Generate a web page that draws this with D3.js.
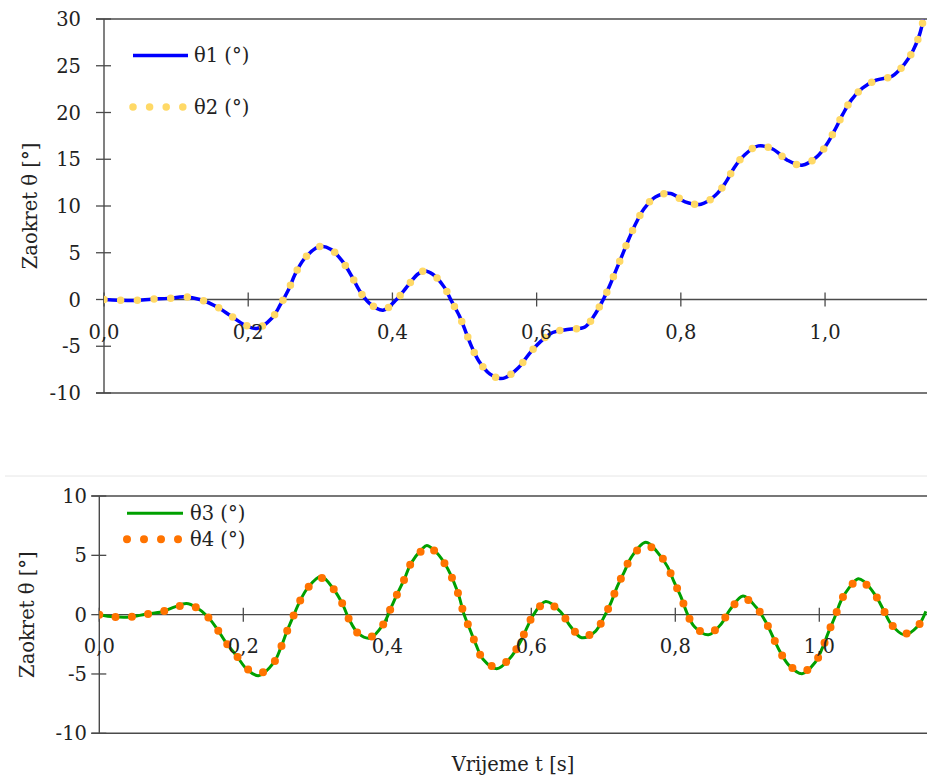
<!DOCTYPE html>
<html>
<head>
<meta charset="utf-8">
<script src="https://cdn.jsdelivr.net/npm/d3@7"></script>
<style>
  html, body { margin: 0; padding: 0; background: #ffffff; }
  svg { display: block; font-family: "DejaVu Serif", serif; }
</style>
</head>
<body>
<svg id="chart" width="927" height="777"></svg>
<script>
// ---------- DATA ----------
const topTime = [0, 0.02, 0.043, 0.066, 0.089, 0.112, 0.133, 0.155, 0.175, 0.195, 0.212, 0.233, 0.245, 0.256, 0.265, 0.277, 0.294, 0.302, 0.315, 0.3305, 0.3435, 0.354, 0.3675, 0.387, 0.406, 0.42, 0.435, 0.445, 0.456, 0.4716, 0.482, 0.4928, 0.5017, 0.51, 0.52, 0.5354, 0.549, 0.557, 0.5747, 0.59, 0.605, 0.6223, 0.6453, 0.667, 0.681, 0.6926, 0.702, 0.711, 0.72, 0.7286, 0.738, 0.749, 0.7647, 0.786, 0.806, 0.828, 0.848, 0.8627, 0.874, 0.888, 0.9075, 0.928, 0.9477, 0.968, 0.9885, 1.0024, 1.0139, 1.0245, 1.036, 1.0518, 1.0707, 1.0934, 1.1096, 1.1216, 1.1308, 1.1364];
const theta1 = [0, -0.07, -0.1, 0.03, 0.12, 0.28, 0.0, -0.72, -1.7, -2.7, -3.1, -1.97, -0.5, 1.07, 2.7, 4.28, 5.5, 5.7, 5.35, 4.1, 2.5, 1.0, -0.36, -1.15, 0.03, 1.35, 2.7, 3.06, 2.7, 1.35, -0.18, -1.75, -3.46, -5.07, -6.6, -7.99, -8.45, -8.34, -7.3, -5.78, -4.53, -3.53, -3.18, -2.93, -1.57, 0.03, 1.6, 3.3, 4.98, 6.6, 8.2, 9.7, 10.97, 11.33, 10.44, 10.19, 11.15, 12.58, 14.1, 15.43, 16.43, 16.07, 14.9, 14.36, 15.25, 16.6, 18.18, 19.79, 21.3, 22.6, 23.45, 23.9, 25.13, 26.55, 28.27, 29.95];
const theta2 = [0, -0.07, -0.1, 0.03, 0.12, 0.28, 0.0, -0.72, -1.7, -2.7, -3.1, -1.97, -0.5, 1.07, 2.7, 4.28, 5.5, 5.7, 5.35, 4.1, 2.5, 1.0, -0.36, -1.15, 0.03, 1.35, 2.7, 3.06, 2.7, 1.35, -0.18, -1.75, -3.46, -5.07, -6.6, -7.99, -8.45, -8.34, -7.3, -5.78, -4.53, -3.53, -3.18, -2.93, -1.57, 0.03, 1.6, 3.3, 4.98, 6.6, 8.2, 9.7, 10.97, 11.33, 10.44, 10.19, 11.15, 12.58, 14.1, 15.43, 16.43, 16.07, 14.9, 14.36, 15.25, 16.6, 18.18, 19.79, 21.3, 22.6, 23.45, 23.9, 25.13, 26.55, 28.27, 29.95];

const botTime = [0, 0.02, 0.042, 0.064, 0.087, 0.105, 0.121, 0.135, 0.15, 0.164, 0.176, 0.191, 0.205, 0.221, 0.242, 0.252, 0.26, 0.269, 0.278, 0.29, 0.308, 0.326, 0.338, 0.347, 0.36, 0.376, 0.395, 0.405, 0.414, 0.424, 0.433, 0.448, 0.455, 0.469, 0.482, 0.492, 0.5, 0.506, 0.514, 0.523, 0.533, 0.552, 0.57, 0.584, 0.594, 0.603, 0.62, 0.641, 0.654, 0.67, 0.689, 0.701, 0.711, 0.719, 0.729, 0.739, 0.759, 0.776, 0.789, 0.798, 0.808, 0.816, 0.827, 0.846, 0.864, 0.876, 0.894, 0.912, 0.925, 0.935, 0.945, 0.957, 0.976, 0.994, 1.004, 1.0125, 1.022, 1.03, 1.042, 1.054, 1.062, 1.078, 1.089, 1.1, 1.118, 1.137, 1.148];
const theta3 = [0, -0.18, -0.2, 0.03, 0.25, 0.65, 0.93, 0.6, -0.14, -1.24, -2.36, -3.5, -4.6, -5.15, -4.07, -2.8, -1.5, -0.2, 1.06, 2.3, 3.22, 2.1, 0.87, -0.4, -1.6, -1.97, -0.76, 0.56, 1.77, 3.03, 4.34, 5.5, 5.83, 5.19, 4.07, 2.8, 1.48, 0.13, -1.13, -2.5, -3.76, -4.55, -3.7, -2.39, -1.1, 0, 1.1, 0.22, -0.96, -1.94, -1.4, -0.2, 1.06, 2.32, 3.59, 4.85, 6.11, 5.2, 4.07, 2.8, 1.48, 0.17, -1.04, -1.7, -0.76, 0.42, 1.57, 0.64, -0.54, -1.8, -3.06, -4.21, -4.98, -4.04, -2.85, -1.52, -0.14, 1.15, 2.32, 3.03, 2.8, 1.62, 0.42, -0.82, -1.7, -0.96, 0.28];
const theta4 = [0, -0.18, -0.2, 0.03, 0.25, 0.62, 0.82, 0.6, -0.14, -1.24, -2.36, -3.5, -4.55, -5.0, -4.07, -2.8, -1.5, -0.2, 1.06, 2.3, 3.1, 2.1, 0.87, -0.4, -1.6, -1.9, -0.76, 0.56, 1.77, 3.03, 4.34, 5.4, 5.7, 5.19, 4.07, 2.8, 1.48, 0.13, -1.13, -2.5, -3.76, -4.45, -3.7, -2.39, -1.1, 0, 1.0, 0.22, -0.96, -1.85, -1.4, -0.2, 1.06, 2.32, 3.59, 4.85, 5.85, 5.2, 4.07, 2.8, 1.48, 0.17, -1.04, -1.6, -0.76, 0.42, 1.4, 0.64, -0.54, -1.8, -3.06, -4.21, -4.85, -4.04, -2.85, -1.52, -0.14, 1.15, 2.32, 2.9, 2.7, 1.62, 0.42, -0.82, -1.6, -0.96, 0.28];

const topYTicks = [-10, -5, 0, 5, 10, 15, 20, 25, 30];
const botYTicks = [-10, -5, 0, 5, 10];
const xTicks = [0, 0.2, 0.4, 0.6, 0.8, 1.0];
const seriesNames = ["θ1 (°)", "θ2 (°)", "θ3 (°)", "θ4 (°)"];
const yTitle = "Zaokret θ [°]";
const xTitle = "Vrijeme t [s]";

// ---------- DRAW ----------
const svg = d3.select("#chart");
const axisColor = "#4a4a4a";
const fontSize = 19.5;
const fmt = v => d3.format(".1f")(v).replace(".", ",");

function drawPanel(cfg) {
  const x = d3.scaleLinear().domain(cfg.xDomain).range([cfg.left, cfg.right]);
  const y = d3.scaleLinear().domain(cfg.yDomain).range([cfg.bottom, cfg.top]);
  const g = svg.append("g");
  const clipId = "clip" + cfg.id;
  svg.append("defs").append("clipPath").attr("id", clipId)
    .append("rect").attr("x", cfg.left).attr("y", cfg.top - 6)
    .attr("width", cfg.right - cfg.left + 10).attr("height", cfg.bottom - cfg.top + 12);

  // borders (top & bottom)
  [cfg.top, cfg.bottom].forEach(yy => {
    g.append("line").attr("x1", cfg.left - 8).attr("x2", 927).attr("y1", yy).attr("y2", yy)
      .attr("stroke", axisColor).attr("stroke-width", 1.4);
  });
  // left axis
  g.append("line").attr("x1", cfg.left).attr("x2", cfg.left).attr("y1", cfg.top).attr("y2", cfg.bottom)
    .attr("stroke", axisColor).attr("stroke-width", 1.4);
  // y ticks
  cfg.yTicks.forEach(v => {
    g.append("line").attr("x1", cfg.left - 8).attr("x2", cfg.left + 7)
      .attr("y1", y(v)).attr("y2", y(v)).attr("stroke", axisColor).attr("stroke-width", 1.3);
    g.append("text").attr("x", cfg.yLabelX).attr("y", y(v)).attr("dy", "0.36em")
      .attr("text-anchor", "end").attr("font-size", fontSize).attr("fill", "#222").text(v);
  });
  // zero line
  g.append("line").attr("x1", cfg.left).attr("x2", 927).attr("y1", y(0)).attr("y2", y(0))
    .attr("stroke", axisColor).attr("stroke-width", 1.4);
  // x ticks
  xTicks.forEach(t => {
    g.append("line").attr("x1", x(t)).attr("x2", x(t)).attr("y1", y(0) - 7).attr("y2", y(0) + 7)
      .attr("stroke", axisColor).attr("stroke-width", 1.3);
  });
  // y title
  g.append("text").attr("transform", `translate(${cfg.titleX},${(cfg.top + cfg.bottom) / 2}) rotate(-90)`)
    .attr("text-anchor", "middle").attr("dy", "0.35em").attr("font-size", fontSize).attr("fill", "#222")
    .text(yTitle);

  // series
  const line = d3.line().x(d => x(d[0])).y(d => y(d[1])).curve(d3.curveCatmullRom.alpha(0.5));
  const dA = cfg.time.map((t, i) => [t, cfg.a[i]]);
  const dB = cfg.time.map((t, i) => [t, cfg.b[i]]);
  const lg = svg.append("g").attr("clip-path", `url(#${clipId})`);
  lg.append("path").attr("d", line(dA)).attr("fill", "none")
    .attr("stroke", cfg.colA).attr("stroke-width", cfg.widthA);
  lg.append("path").attr("d", line(dB)).attr("fill", "none")
    .attr("stroke", cfg.colB).attr("stroke-width", cfg.dotSize)
    .attr("stroke-linecap", "round").attr("stroke-dasharray", `0 ${cfg.dotGap}`);

  // x tick labels
  xTicks.forEach(t => {
    svg.append("text").attr("x", x(t)).attr("y", y(0) + cfg.xLabelOff)
      .attr("text-anchor", "middle").attr("font-size", fontSize).attr("fill", "#222").text(fmt(t));
  });

  // legend
  const L = cfg.legend;
  svg.append("line").attr("x1", L.x1).attr("x2", L.x2).attr("y1", L.y1).attr("y2", L.y1)
    .attr("stroke", cfg.colA).attr("stroke-width", cfg.widthA);
  svg.append("text").attr("x", L.tx).attr("y", L.y1).attr("dy", "0.35em")
    .attr("font-size", fontSize).attr("fill", "#222").text(cfg.nameA);
  svg.append("line").attr("x1", L.x1).attr("x2", L.x1 + 3 * cfg.legendGap + 0.1).attr("y1", L.y2).attr("y2", L.y2)
    .attr("stroke", cfg.colB).attr("stroke-width", cfg.dotSize).attr("stroke-linecap", "round")
    .attr("stroke-dasharray", `0 ${cfg.legendGap}`);
  svg.append("text").attr("x", L.tx).attr("y", L.y2).attr("dy", "0.35em")
    .attr("font-size", fontSize).attr("fill", "#222").text(cfg.nameB);
}

drawPanel({
  id: "top", xDomain: [0, 1.14], yDomain: [-10, 30],
  left: 104, right: 926, top: 19, bottom: 393,
  yTicks: topYTicks, yLabelX: 81, xLabelOff: 39, titleX: 30,
  time: topTime, a: theta1, b: theta2,
  colA: "#0000ff", widthA: 3.5, colB: "#ffd966", dotSize: 7.5, dotGap: 16.7,
  nameA: seriesNames[0], nameB: seriesNames[1],
  legend: { x1: 133, x2: 188, y1: 55.5, y2: 107, tx: 194 }, legendGap: 16.6
});

// separator
svg.append("line").attr("x1", 5).attr("x2", 927).attr("y1", 476).attr("y2", 476)
  .attr("stroke", "#e6e6e6").attr("stroke-width", 1);

drawPanel({
  id: "bot", xDomain: [0, 1.15], yDomain: [-10, 10],
  left: 99.3, right: 927.3, top: 496, bottom: 733.3,
  yTicks: botYTicks, yLabelX: 87, xLabelOff: 38, titleX: 27,
  time: botTime, a: theta3, b: theta4,
  colA: "#00a000", widthA: 3, colB: "#ff7300", dotSize: 8, dotGap: 16.4,
  nameA: seriesNames[2], nameB: seriesNames[3],
  legend: { x1: 127, x2: 183, y1: 513.3, y2: 539.3, tx: 190 }, legendGap: 17
});

// x title
svg.append("text").attr("x", 513).attr("y", 771).attr("text-anchor", "middle")
  .attr("font-size", fontSize).attr("fill", "#222").text(xTitle);
</script>
</body>
</html>
